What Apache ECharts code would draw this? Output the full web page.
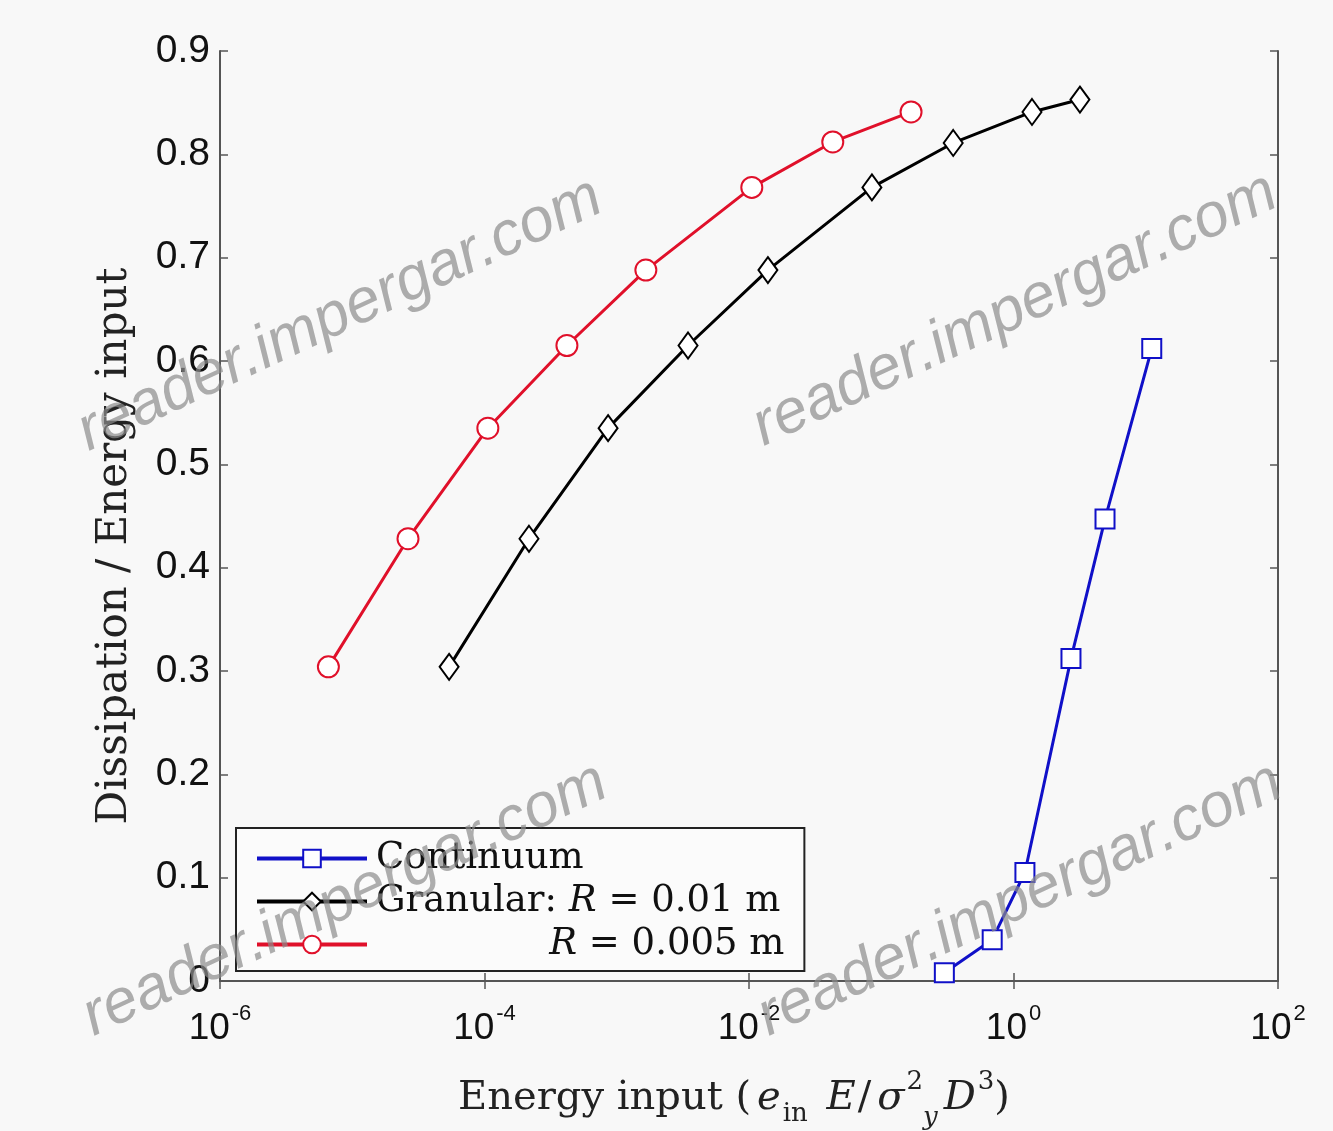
<!DOCTYPE html>
<html>
<head>
<meta charset="utf-8">
<script src="https://cdn.jsdelivr.net/npm/echarts@6/dist/echarts.min.js"></script>
<style>html,body{margin:0;padding:0;background:#f8f8f8;}#c{width:1333px;height:1131px;}</style>
</head>
<body>
<div id="c"></div>
<script>
// ---- data ----
const continuumX = [0.30, 0.69, 1.22, 2.72, 4.92, 11.1];
const continuumY = [0.008, 0.040, 0.105, 0.312, 0.447, 0.612];
const granular01X = [5.4e-5, 2.17e-4, 8.6e-4, 3.46e-3, 1.39e-2, 8.5e-2, 0.35, 1.38, 3.18];
const granular01Y = [0.304, 0.428, 0.535, 0.615, 0.688, 0.768, 0.811, 0.841, 0.853];
const granular005X = [6.6e-6, 2.64e-5, 1.06e-4, 4.2e-4, 1.66e-3, 1.05e-2, 4.3e-2, 0.168];
const granular005Y = [0.304, 0.428, 0.535, 0.615, 0.688, 0.768, 0.812, 0.841];
const seriesNames = ['Continuum', 'Granular: R = 0.01 m', 'R = 0.005 m'];
const yTicks = [0, 0.1, 0.2, 0.3, 0.4, 0.5, 0.6, 0.7, 0.8, 0.9];
const xTickExponents = [-6, -4, -2, 0, 2];

function pairs(xs, ys) { return xs.map((x, i) => [x, ys[i]]); }

const SANS = 'Liberation Sans, Arial, sans-serif';
const SERIF = 'DejaVu Serif, Liberation Serif, serif';
const LEG_FS = 37;

// measure text to right-align the third legend entry with the second
const mctx = document.createElement('canvas').getContext('2d');
function tw(txt, italic) {
  mctx.font = (italic ? 'italic ' : '') + LEG_FS + 'px ' + SERIF;
  return mctx.measureText(txt).width;
}
const line2W = tw('Granular: ') + tw('R', true) + tw(' = 0.01 m');
const line3W = tw('R', true) + tw(' = 0.005 m');
const spW = Math.max(0, line2W - line3W + 4);

const chart = echarts.init(document.getElementById('c'), null, {renderer: 'canvas'});

const axisCommon = {
  axisLine: {show: true, lineStyle: {color: '#555', width: 2}},
  axisTick: {show: true, inside: true, length: 8, lineStyle: {color: '#555', width: 1.5}},
  splitLine: {show: false},
  minorTick: {show: false}
};

function wm(x, y) {
  return {
    type: 'text', x: x, y: y, rotation: 25 * Math.PI / 180, z: 100,
    style: {text: 'reader.impergar.com', font: 'italic 62px ' + SANS, fill: 'rgba(140,140,140,0.7)',
      align: 'center', verticalAlign: 'middle'}
  };
}

const option = {
  backgroundColor: '#f8f8f8',
  animation: false,
  grid: {left: 220, right: 55, top: 51, bottom: 150, outerBoundsMode: 'none', containLabel: false},
  xAxis: [
    Object.assign({}, axisCommon, {
      type: 'log', logBase: 10, min: 1e-6, max: 1e2, interval: 2,
      axisLabel: {
        margin: 22,
        formatter: function (v) {
          const e = Math.round(Math.log10(v));
          return '{b|10}{s|' + e + '}';
        },
        rich: {
          b: {fontFamily: SANS, fontSize: 37, color: '#111', lineHeight: 44, verticalAlign: 'bottom'},
          s: {fontFamily: SANS, fontSize: 22, color: '#111', lineHeight: 44, verticalAlign: 'top', padding: [0, 0, 0, 2]}
        }
      },
      name: '{t|Energy input (}{i|e}{sub|in}{i| E}{t|/}{i|σ}{sup|2}{isub|y}{i|D}{sup|3}{t|)}',
      nameLocation: 'middle', nameGap: 88,
      nameTextStyle: {
        padding: [0, 30, 0, 0],
        rich: {
          t: {fontFamily: SERIF, fontSize: 40, color: '#222', lineHeight: 50, verticalAlign: 'bottom'},
          i: {fontFamily: SERIF, fontStyle: 'italic', fontSize: 40, color: '#222', lineHeight: 50, verticalAlign: 'bottom', padding: [0, 2, 0, 6]},
          sub: {fontFamily: SERIF, fontSize: 26, color: '#222', lineHeight: 50, verticalAlign: 'bottom', padding: [0, 0, -8, 0]},
          isub: {fontFamily: SERIF, fontStyle: 'italic', fontSize: 26, color: '#222', lineHeight: 50, verticalAlign: 'bottom', padding: [0, 0, -12, 0]},
          sup: {fontFamily: SERIF, fontSize: 26, color: '#222', lineHeight: 50, verticalAlign: 'top'}
        }
      }
    }),
    Object.assign({}, axisCommon, {
      type: 'log', logBase: 10, min: 1e-6, max: 1e2, interval: 2, position: 'top',
      axisLabel: {show: false}
    })
  ],
  yAxis: [
    Object.assign({}, axisCommon, {
      type: 'value', min: yTicks[0], max: yTicks[yTicks.length - 1], interval: 0.1,
      axisLabel: {
        margin: 10, fontFamily: SANS, fontSize: 39, color: '#111',
        formatter: function (v) { return v === 0 ? '0' : v.toFixed(1); }
      },
      name: 'Dissipation / Energy input',
      nameLocation: 'middle', nameGap: 84,
      nameTextStyle: {fontFamily: SERIF, fontSize: 42, color: '#222', padding: [0, 60, 0, 0]}
    }),
    Object.assign({}, axisCommon, {
      type: 'value', min: yTicks[0], max: yTicks[yTicks.length - 1], interval: 0.1, position: 'right',
      axisLabel: {show: false}
    })
  ],
  legend: {
    orient: 'vertical', left: 236, top: 828,
    backgroundColor: '#fbfbfb', borderColor: '#222', borderWidth: 2, borderRadius: 0,
    padding: [12, 20, 8, 19], itemGap: 6, itemWidth: 110, itemHeight: 22,
    lineStyle: {width: 4},
    data: seriesNames,
    formatter: function (name) {
      if (name === seriesNames[0]) return '{t|Continuum}';
      if (name === seriesNames[1]) return '{t|Granular: }{i|R}{t| = 0.01 m}';
      return '{sp|}{i|R}{t| = 0.005 m}';
    },
    textStyle: {
      padding: [0, 0, 0, 4],
      rich: {
        t: {fontFamily: SERIF, fontSize: LEG_FS, color: '#111', lineHeight: 34},
        i: {fontFamily: SERIF, fontStyle: 'italic', fontSize: LEG_FS, color: '#111', lineHeight: 34},
        sp: {width: spW, lineHeight: 34}
      }
    }
  },
  series: [
    {
      name: seriesNames[0], type: 'line', data: pairs(continuumX, continuumY),
      symbol: 'emptyRect', symbolSize: 19,
      lineStyle: {color: '#1010c8', width: 3}, itemStyle: {color: '#1010c8', borderWidth: 3},
      emphasis: {disabled: true}, z: 3
    },
    {
      name: seriesNames[1], type: 'line', data: pairs(granular01X, granular01Y),
      symbol: 'emptyDiamond', symbolSize: [19, 26],
      lineStyle: {color: '#000', width: 3}, itemStyle: {color: '#000', borderWidth: 3},
      emphasis: {disabled: true}, z: 3
    },
    {
      name: seriesNames[2], type: 'line', data: pairs(granular005X, granular005Y),
      symbol: 'emptyCircle', symbolSize: 21,
      lineStyle: {color: '#e0102a', width: 3}, itemStyle: {color: '#e0102a', borderWidth: 3},
      emphasis: {disabled: true}, z: 3
    }
  ],
  graphic: [wm(340, 315), wm(1015, 310), wm(345, 900), wm(1020, 900)]
};

chart.setOption(option);
</script>
</body>
</html>
